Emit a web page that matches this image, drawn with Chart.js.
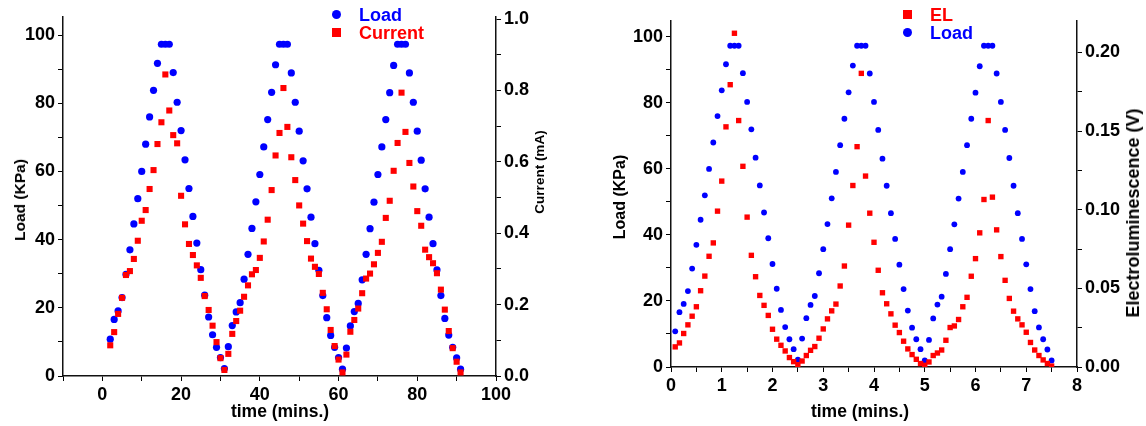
<!doctype html>
<html>
<head>
<meta charset="utf-8">
<title>Load, current and electroluminescence vs time</title>
<script src="https://cdn.jsdelivr.net/npm/chart.js@4.4.1/dist/chart.umd.min.js"></script>
<style>
body{margin:0;width:1146px;height:426px;position:relative;background:#fff;overflow:hidden;
  font-family:"Liberation Sans",Arial,sans-serif;font-weight:bold;color:#000}
canvas{position:absolute;top:0}
#left{left:0}
#right{left:580px}
.t{position:absolute;white-space:nowrap;font-size:17px;line-height:20px;transform:translate(-50%,-50%)}
.rot{transform:translate(-50%,-50%) rotate(-90deg)}
.lg{position:absolute;font-size:18px;line-height:18px;white-space:nowrap}
.mk{position:absolute;width:9px;height:9px}
.dot{border-radius:50%;background:#0000ff}
.sq{background:#ff0000}
</style>
</head>
<body>
<canvas id="left" width="560" height="426"></canvas>
<canvas id="right" width="566" height="426"></canvas>

<!-- legends -->
<div class="mk dot" style="left:332px;top:10px"></div>
<div class="lg" style="left:359px;top:6px;color:#0000ff">Load</div>
<div class="mk sq" style="left:332px;top:28px"></div>
<div class="lg" style="left:359px;top:24px;color:#ff0000">Current</div>

<div class="mk sq" style="left:903px;top:10px"></div>
<div class="lg" style="left:930px;top:6px;color:#ff0000">EL</div>
<div class="mk dot" style="left:903px;top:28px"></div>
<div class="lg" style="left:930px;top:24px;color:#0000ff">Load</div>

<!-- axis titles -->
<div class="t rot" style="left:20px;top:200px;font-size:15.5px">Load (KPa)</div>
<div class="t rot" style="left:540px;top:172px;font-size:13.5px">Current (mA)</div>
<div class="t" style="left:280px;top:411px;font-size:17.5px">time (mins.)</div>
<div class="t rot" style="left:620px;top:197px;font-size:16px">Load (KPa)</div>
<div class="t rot" style="left:1133px;top:213px;font-size:18px">Electroluminescence (V)</div>
<div class="t" style="left:860px;top:411px;font-size:17.5px">time (mins.)</div>

<script>
// sampling times
const leftTimeMin = [2,3,4,5,6,7,8,9,10,11,12,13,14,15,16,17,18,19,20,21,22,23,24,25,26,27,28,29,30,31,
  32,33,34,35,36,37,38,39,40,41,42,43,44,45,46,47,48,49,50,51,52,53,54,55,56,57,58,59,60,61,
  62,63,64,65,66,67,68,69,70,71,72,73,74,75,76,77,78,79,80,81,82,83,84,85,86,87,88,89,90,91];
const rightTimeSec = [5,10,15,20,25,30,35,40,45,50,55,60,65,70,75,80,85,90,95,100,105,110,115,120,125,130,135,140,145,150,
  155,160,165,170,175,180,185,190,195,200,205,210,215,220,225,230,235,240,245,250,255,260,265,270,275,280,285,290,295,300,
  305,310,315,320,325,330,335,340,345,350,355,360,365,370,375,380,385,390,395,400,405,410,415,420,425,430,435,440,445,450];

// load cycle (same in both panels), KPa
const loadKPa = [10.8,16.6,19.1,23.0,29.8,37.0,44.6,52.0,60.0,68.0,76.0,83.8,91.7,97.3,97.3,97.3,89.0,80.3,72.0,63.4,55.0,46.8,39.0,31.2,23.7,17.3,12.1,8.4,5.4,2.2,
  8.6,14.8,18.8,21.5,28.4,35.7,43.3,51.1,59.1,67.2,75.2,83.2,91.3,97.3,97.3,97.3,88.9,80.3,71.8,63.1,54.9,46.6,38.8,31.0,23.6,17.1,11.9,8.4,5.4,2.0,
  8.2,14.7,18.9,21.3,28.2,35.7,43.2,51.0,59.1,67.2,75.2,83.1,91.1,97.3,97.3,97.3,88.9,80.3,71.8,63.3,54.9,46.6,38.8,31.1,23.6,16.9,12.0,8.4,5.3,2.0];

// current, mA
const currentMA = [0.086,0.123,0.174,0.219,0.283,0.294,0.328,0.379,0.435,0.465,0.524,0.577,0.650,0.711,0.845,0.744,0.675,0.652,0.505,0.425,0.370,0.339,0.310,0.275,0.224,0.185,0.141,0.095,0.050,0.017,
  0.062,0.118,0.154,0.183,0.222,0.254,0.285,0.297,0.331,0.377,0.438,0.521,0.618,0.681,0.807,0.698,0.613,0.549,0.478,0.427,0.378,0.329,0.306,0.286,0.233,0.187,0.129,0.084,0.046,0.010,
  0.060,0.124,0.157,0.189,0.232,0.273,0.287,0.313,0.345,0.376,0.443,0.491,0.575,0.653,0.794,0.684,0.597,0.531,0.462,0.421,0.354,0.333,0.316,0.288,0.242,0.186,0.126,0.078,0.040,0.010];

// electroluminescence, V
const elVolt = [0.0128,0.0153,0.0213,0.0268,0.0323,0.0383,0.0485,0.0578,0.0704,0.0789,0.0991,0.1182,0.1527,0.1795,0.2122,0.1567,0.1276,0.0953,0.0710,0.0574,0.0455,0.0392,0.0328,0.0240,0.0177,0.0138,0.0102,0.0060,0.0034,0.0015,
  0.0038,0.0073,0.0106,0.0130,0.0183,0.0242,0.0306,0.0357,0.0400,0.0515,0.0642,0.0902,0.1154,0.1401,0.1867,0.1214,0.0978,0.0793,0.0615,0.0472,0.0402,0.0338,0.0266,0.0219,0.0164,0.0115,0.0079,0.0049,0.0022,0.0011,
  0.0032,0.0073,0.0089,0.0108,0.0170,0.0251,0.0261,0.0302,0.0383,0.0443,0.0577,0.0689,0.0853,0.1065,0.1567,0.1080,0.0872,0.0702,0.0551,0.0436,0.0355,0.0306,0.0268,0.0221,0.0156,0.0108,0.0073,0.0045,0.0022,0.0006];

// tick labels
const leftXLabels = [0,20,40,60,80,100];
const loadLabels = [0,20,40,60,80,100];
const currentLabels = [0,0.2,0.4,0.6,0.8,1.0];
const rightXLabels = [0,1,2,3,4,5,6,7,8];
const elLabels = [0,0.05,0.10,0.15,0.20];

const BLUE = '#0000ff', RED = '#ff0000';
const tickFont = {family:'"Liberation Sans", Arial, sans-serif', size:18, weight:'bold'};

function pts(xs, ys, k){ return xs.map((x,i) => ({x:x*k, y:ys[i]})); }

function labelIf(list, digits){
  return v => list.some(l => Math.abs(l - v) < 1e-7) ? v.toFixed(digits) : '';
}

function axis(pos, min, max, step, list, digits, fit){
  return {
    type:'linear', position:pos, min:min, max:max,
    grid:{drawOnChartArea:false, tickLength:5, tickColor:'#000', tickWidth:1},
    border:{color:'#111', width:1.5},
    ticks:{stepSize:step, autoSkip:false, maxRotation:0, includeBounds:false, padding:3,
      font:tickFont, color:'#000', callback:labelIf(list, digits)},
    afterFit:fit
  };
}

function baseOpts(top, scales){
  return {
    responsive:false, animation:false, events:[],
    layout:{padding:{top:top, left:0, right:0, bottom:0}},
    plugins:{legend:{display:false}, tooltip:{enabled:false}},
    scales:scales
  };
}

new Chart(document.getElementById('left'), {
  type:'scatter',
  data:{datasets:[
    {label:'Current', data:pts(leftTimeMin, currentMA, 1), yAxisID:'y1',
     pointStyle:'rect', pointRadius:4.3, backgroundColor:RED, borderWidth:0},
    {label:'Load', data:pts(leftTimeMin, loadKPa, 1), yAxisID:'y',
     pointStyle:'circle', pointRadius:3.6, backgroundColor:BLUE, borderWidth:0}
  ]},
  options:baseOpts(17, {
    x:axis('bottom', -10, 100, 10, leftXLabels, 0, s => { s.height = 50; }),
    y:axis('left', 0, 105.3, 10, loadLabels, 0, s => { s.width = 63; }),
    y1:axis('right', 0, 1.006, 0.1, currentLabels, 1, s => { s.width = 64; })
  })
});

new Chart(document.getElementById('right'), {
  type:'scatter',
  data:{datasets:[
    {label:'EL', data:pts(rightTimeSec, elVolt, 1/60), yAxisID:'y1',
     pointStyle:'rect', pointRadius:3.8, backgroundColor:RED, borderWidth:0},
    {label:'Load', data:pts(rightTimeSec, loadKPa, 1/60), yAxisID:'y',
     pointStyle:'circle', pointRadius:2.9, backgroundColor:BLUE, borderWidth:0}
  ]},
  options:baseOpts(21, {
    x:axis('bottom', 0, 8, 0.5, rightXLabels, 0, s => { s.height = 59; }),
    y:axis('left', 0, 104.8, 10, loadLabels, 0, s => { s.width = 91; }),
    y1:axis('right', 0, 0.22, 0.025, elLabels, 2, s => { s.width = 69; })
  })
});
</script>
</body>
</html>
